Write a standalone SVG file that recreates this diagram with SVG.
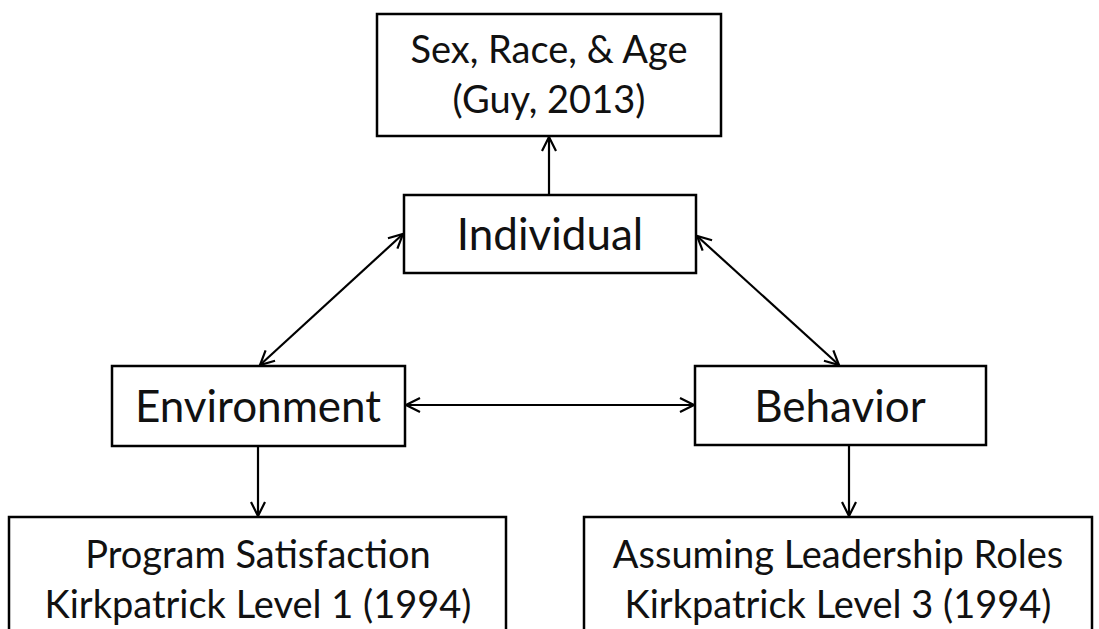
<svg xmlns="http://www.w3.org/2000/svg" width="1099" height="629" viewBox="0 0 1099 629">
<style>
.box{fill:#fff;stroke:#000;stroke-width:2.5}
.lbl{font-family:Lato,"Open Sans",sans-serif;fill:#111;text-anchor:middle}
.big{font-size:44px}
.mid{font-size:38px}
.con{stroke:#000;stroke-width:2.2;fill:none}
</style>
<defs>
<marker id="ah" viewBox="0 0 16 16" refX="15" refY="8" markerWidth="16" markerHeight="16" markerUnits="userSpaceOnUse" orient="auto-start-reverse">
<path d="M1,1 L15,8 L1,15" fill="none" stroke="#000" stroke-width="2.2"/>
</marker>
</defs>
<rect width="1099" height="629" fill="#fff"/>
<g id="connectors">
<line class="con" x1="549" y1="195" x2="549" y2="137" marker-end="url(#ah)"/>
<line class="con" x1="403" y1="234" x2="260" y2="365" marker-start="url(#ah)" marker-end="url(#ah)"/>
<line class="con" x1="697" y1="236" x2="839" y2="365" marker-start="url(#ah)" marker-end="url(#ah)"/>
<line class="con" x1="406" y1="405" x2="694" y2="405" marker-start="url(#ah)" marker-end="url(#ah)"/>
<line class="con" x1="258" y1="446" x2="258" y2="516" marker-end="url(#ah)"/>
<line class="con" x1="849" y1="445" x2="849" y2="516" marker-end="url(#ah)"/>
</g>
<g id="node-sra">
<rect class="box" x="377" y="14" width="344" height="122"/>
<text class="lbl mid" x="549" y="63">Sex, Race, &amp; Age</text>
<text class="lbl mid" x="549" y="113">(Guy, 2013)</text>
</g>
<g id="node-individual">
<rect class="box" x="404" y="195" width="292" height="78"/>
<text class="lbl big" x="550" y="250">Individual</text>
</g>
<g id="node-environment">
<rect class="box" x="112" y="366" width="293" height="80"/>
<text class="lbl big" x="258" y="422">Environment</text>
</g>
<g id="node-behavior">
<rect class="box" x="695" y="366" width="291" height="79"/>
<text class="lbl big" x="840" y="422">Behavior</text>
</g>
<g id="node-program">
<rect class="box" x="9" y="517" width="497" height="130"/>
<text class="lbl mid" x="258" y="568">Program Satisfaction</text>
<text class="lbl mid" x="258" y="618">Kirkpatrick Level 1 (1994)</text>
</g>
<g id="node-leadership">
<rect class="box" x="584" y="517" width="508" height="130"/>
<text class="lbl mid" x="838" y="568">Assuming Leadership Roles</text>
<text class="lbl mid" x="838" y="618">Kirkpatrick Level 3 (1994)</text>
</g>
</svg>
